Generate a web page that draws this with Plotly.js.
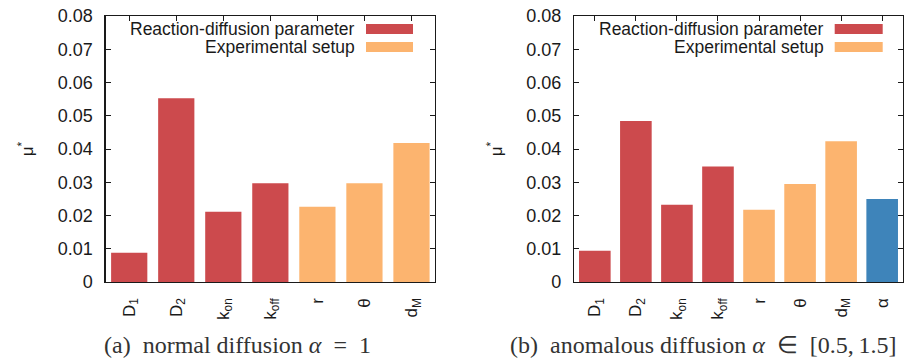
<!DOCTYPE html>
<html>
<head>
<meta charset="utf-8">
<script src="https://cdn.plot.ly/plotly-3.0.1.min.js"></script>
<style>html,body{margin:0;padding:0;background:#fff;}#chart{width:905px;height:358px;}</style>
</head>
<body>
<div id="chart"></div>
<script>
// ---- data ----
const categoriesA = ['D<sub>1</sub>', 'D<sub>2</sub>', 'k<sub>on</sub>', 'k<sub>off</sub>', 'r', 'θ', 'd<sub>M</sub>'];
const valuesA = [0.0088, 0.0553, 0.0211, 0.0297, 0.0226, 0.0297, 0.0418];
const groupsA = ['rd', 'rd', 'rd', 'rd', 'exp', 'exp', 'exp'];

const categoriesB = ['D<sub>1</sub>', 'D<sub>2</sub>', 'k<sub>on</sub>', 'k<sub>off</sub>', 'r', 'θ', 'd<sub>M</sub>', 'α'];
const valuesB = [0.0094, 0.0484, 0.0232, 0.0347, 0.0217, 0.0295, 0.0423, 0.0250];
const groupsB = ['rd', 'rd', 'rd', 'rd', 'exp', 'exp', 'exp', 'alpha'];

const legendLabels = ['Reaction-diffusion parameter', 'Experimental setup'];
const legendGroups = ['rd', 'exp'];
const yTickVals = [0, 0.01, 0.02, 0.03, 0.04, 0.05, 0.06, 0.07, 0.08];
const yTickText = ['0', '0.01', '0.02', '0.03', '0.04', '0.05', '0.06', '0.07', '0.08'];
const captionA = '(a)\u2002normal diffusion <i>α</i>\u2002=\u20021';
const captionB = '(b)\u2002anomalous diffusion <i>α</i>\u2002∈\u2002[0.5,\u20091.5]';
const yTitle = 'μ<sup>*</sup>';

// ---- styles ----
const groupColors = {rd: '#CC4A4D', exp: '#FCB46F', alpha: '#3E84BA'};
const W = 905, H = 358;
const px = x => x / W;
const py = y => 1 - y / H;
const sans = 'Liberation Sans, Arial, sans-serif';
const ink = '#1a1a1a';

const traces = [
  {type: 'bar', x: categoriesA.map((_, i) => i), y: valuesA,
   marker: {color: groupsA.map(g => groupColors[g]), line: {width: 0}},
   xaxis: 'x', yaxis: 'y', showlegend: false, hoverinfo: 'y'},
  {type: 'bar', x: categoriesB.map((_, i) => i), y: valuesB,
   marker: {color: groupsB.map(g => groupColors[g]), line: {width: 0}},
   xaxis: 'x2', yaxis: 'y2', showlegend: false, hoverinfo: 'y'}
];

function xAxis(domain, cats, anchor) {
  return {
    domain: domain, anchor: anchor, range: [-0.5, cats.length - 0.5],
    tickmode: 'array', tickvals: cats.map((_, i) => i), ticktext: cats,
    tickangle: -90, ticks: 'inside', ticklen: 5, tickwidth: 1, tickcolor: ink,
    showline: true, linecolor: ink, linewidth: 1.4, mirror: 'ticks',
    showgrid: false, zeroline: false, layer: 'below traces',
    tickfont: {family: sans, size: 17, color: ink}, ticklabelstandoff: 8,
    fixedrange: true
  };
}
function yAxis(domain, anchor) {
  return {
    domain: domain, anchor: anchor, range: [0, 0.08],
    tickmode: 'array', tickvals: yTickVals, ticktext: yTickText,
    ticks: 'inside', ticklen: 5, tickwidth: 1, tickcolor: ink,
    showline: true, linecolor: ink, linewidth: 1.4, mirror: 'ticks',
    showgrid: false, zeroline: false, layer: 'below traces',
    tickfont: {family: sans, size: 18, color: ink}, ticklabelstandoff: 8,
    title: {text: yTitle, font: {family: sans, size: 17, color: ink}, standoff: 19},
    fixedrange: true
  };
}

const yDom = [py(282), py(16)];
const layout = {
  width: W, height: H,
  margin: {l: 0, r: 0, t: 0, b: 0},
  paper_bgcolor: '#fff', plot_bgcolor: '#fff',
  bargap: 0.23,
  showlegend: false,
  xaxis: xAxis([px(105.7), px(435)], categoriesA, 'y'),
  yaxis: yAxis(yDom, 'x'),
  xaxis2: xAxis([px(574.3), px(902.7)], categoriesB, 'y2'),
  yaxis2: yAxis(yDom, 'x2'),
  annotations: [],
  shapes: []
};

// legends drawn gnuplot-style: label then swatch on the right
const legendRows = [29, 47];
[[357, 366, 413], [825.7, 834.7, 882.7]].forEach(([textRight, swL, swR]) => {
  legendLabels.forEach((lab, k) => {
    const yc = legendRows[k];
    layout.annotations.push({
      xref: 'paper', yref: 'paper', x: px(textRight), y: py(yc),
      xanchor: 'right', yanchor: 'middle', showarrow: false,
      text: lab, font: {family: sans, size: 17.5, color: ink}
    });
    layout.shapes.push({
      type: 'rect', xref: 'paper', yref: 'paper',
      x0: px(swL), x1: px(swR), y0: py(yc - 5), y1: py(yc + 5),
      fillcolor: groupColors[legendGroups[k]], line: {width: 0}
    });
  });
});

// captions
[[captionA, 237.5], [captionB, 703]].forEach(([txt, xc]) => {
  layout.annotations.push({
    xref: 'paper', yref: 'paper', x: px(xc), y: py(345),
    xanchor: 'center', yanchor: 'middle', showarrow: false,
    text: txt, font: {family: 'Liberation Serif, Times New Roman, serif', size: 24, color: '#333'}
  });
});

Plotly.newPlot('chart', traces, layout, {staticPlot: true});
</script>
</body>
</html>
